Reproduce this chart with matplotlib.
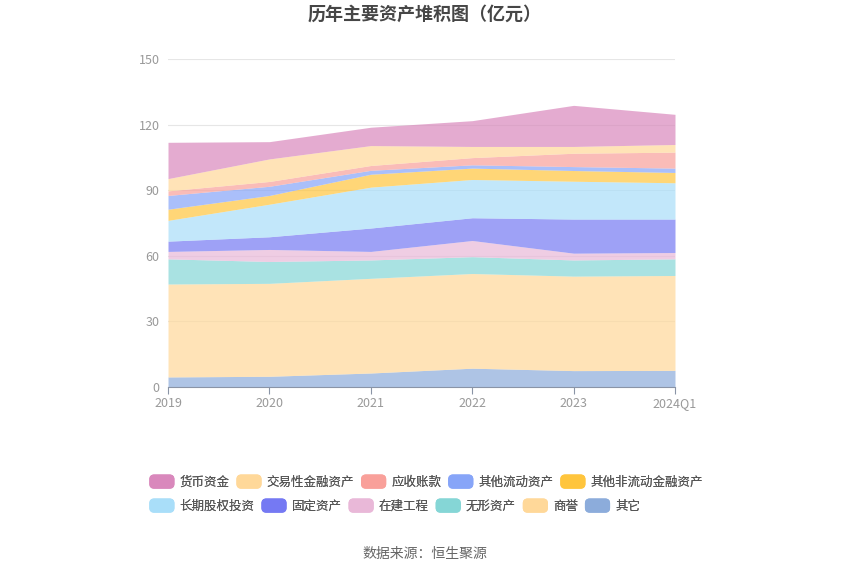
import matplotlib
matplotlib.use("Agg")
import matplotlib.pyplot as plt
from matplotlib.patches import FancyBboxPatch
from matplotlib.legend_handler import HandlerPatch
import matplotlib.patches as mpatches
import numpy as np

plt.rcParams['font.family'] = ['Noto Sans CJK SC', 'DejaVu Sans']

years = ["2019", "2020", "2021", "2022", "2023", "2024Q1"]

# values in 亿元, stacked bottom -> top
qita = [4.6, 4.9, 6.4, 8.6, 7.5, 7.6]            # 其它
shangyu = [42.5, 42.5, 43.3, 43.3, 43.2, 43.4]   # 商誉
wuxing = [11.5, 10.0, 8.4, 7.7, 7.4, 7.6]        # 无形资产
zaijian = [3.4, 5.5, 3.9, 7.4, 3.1, 2.9]         # 在建工程
guding = [4.7, 5.8, 10.7, 10.4, 15.6, 15.3]      # 固定资产
changqi = [9.5, 14.9, 18.7, 17.5, 17.3, 16.6]    # 长期股权投资
feiliudong = [5.1, 4.0, 5.9, 5.2, 4.9, 4.7]      # 其他非流动金融资产
liudong = [6.3, 4.2, 1.8, 1.5, 1.8, 2.0]         # 其他流动资产
yingshou = [2.1, 2.2, 2.2, 3.3, 6.1, 7.3]        # 应收账款
jiaoyi = [5.6, 10.3, 9.1, 5.1, 3.1, 3.5]         # 交易性金融资产
huobi = [16.6, 7.9, 8.4, 11.8, 18.8, 13.8]       # 货币资金

legend_names = ["货币资金", "交易性金融资产", "应收账款", "其他流动资产", "其他非流动金融资产",
                "长期股权投资", "固定资产", "在建工程", "无形资产", "商誉", "其它"]
colors = {
    "货币资金": "#d988bc",
    "交易性金融资产": "#ffd899",
    "应收账款": "#f9a09a",
    "其他流动资产": "#87a5f8",
    "其他非流动金融资产": "#ffc53d",
    "长期股权投资": "#a9def9",
    "固定资产": "#7579f3",
    "在建工程": "#e9b8d8",
    "无形资产": "#85d6d6",
    "商誉": "#ffd899",
    "其它": "#8cacdb",
}

stack_names = ["其它", "商誉", "无形资产", "在建工程", "固定资产", "长期股权投资",
               "其他非流动金融资产", "其他流动资产", "应收账款", "交易性金融资产", "货币资金"]
stack_vals = [qita, shangyu, wuxing, zaijian, guding, changqi, feiliudong, liudong,
              yingshou, jiaoyi, huobi]

fig = plt.figure(figsize=(8.5, 5.75), dpi=100)
ax = fig.add_axes([168/850, 1-387/575, (675-168)/850, (387-59)/575])

x = np.arange(len(years))
base = np.zeros(len(years))
for name, vals in zip(stack_names, stack_vals):
    v = np.array(vals)
    ax.fill_between(x, base, base + v, color=colors[name], alpha=0.7, linewidth=0)
    base = base + v

ax.set_xlim(0, len(years) - 1)
ax.set_ylim(0, 150)
ax.set_yticks([0, 30, 60, 90, 120, 150])
ax.set_xticks(x)
ax.set_xticklabels(years)
ax.grid(axis='y', color='#e6e6e6', linewidth=0.8)
ax.set_axisbelow(True)
for s in ['top', 'right', 'left']:
    ax.spines[s].set_visible(False)
ax.spines['bottom'].set_color('#8a94a6')
ax.tick_params(axis='y', length=0, labelsize=9, labelcolor='#999999', pad=6)
ax.tick_params(axis='x', length=5, color='#8a94a6', labelsize=9, labelcolor='#999999', pad=2)

fig.text(0.5, 1-14/575, "历年主要资产堆积图（亿元）", ha='center', va='center',
         fontsize=13, fontweight='bold', color='#464646')
fig.text(0.5, 1-554/575, "数据来源：恒生聚源", ha='center', va='center',
         fontsize=10, color='#666666')


def make_patch(legend, orig_handle, xdescent, ydescent, width, height, fontsize):
    return FancyBboxPatch((-xdescent, -ydescent), width, height,
                          boxstyle="round,pad=0,rounding_size=3",
                          facecolor=orig_handle.get_facecolor(), edgecolor='none')


rows = [legend_names[:5], legend_names[5:]]
row_y = [482, 506]
for names, yy in zip(rows, row_y):
    handles = [mpatches.Patch(color=colors[n]) for n in names]
    leg = fig.legend(handles, names, loc='center left',
                     bbox_to_anchor=(150/850, 1-yy/575), ncol=len(names),
                     frameon=False, fontsize=9, handlelength=1.9, handleheight=1.2,
                     handletextpad=0.45, columnspacing=0.62, borderpad=0, borderaxespad=0,
                     handler_map={mpatches.Patch: HandlerPatch(patch_func=make_patch)})
    for t in leg.get_texts():
        t.set_color('#555555')
    fig.add_artist(leg)

fig.savefig("out.png", dpi=100)
